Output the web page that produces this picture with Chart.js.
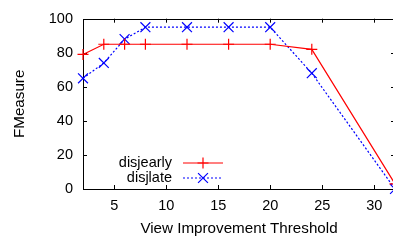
<!DOCTYPE html>
<html lang="en">
<head>
    <meta charset="UTF-8">
    <title>FMeasure vs View Improvement Threshold</title>
    <script src="https://cdn.jsdelivr.net/npm/chart.js"></script>
    <style>
        html, body { margin: 0; padding: 0; overflow: hidden; background: #fff; }
        canvas { display: block; }
    </style>
</head>
<body>
    <canvas id="fmChart" width="396" height="242"></canvas>

    <script>
        // values
        const thresholds = [2, 4, 6, 8, 12, 16, 20, 24, 32];
        const disjearly = [79, 85, 85, 85, 85, 85, 85, 82, 3];
        const disjlate = [65, 74, 88, 95, 95, 95, 95, 68, 0];
        const xTicks = [5, 10, 15, 20, 25, 30];
        const yTicks = [0, 20, 40, 60, 80, 100];

        const FONT = { family: '"Liberation Sans", Arial, Helvetica, sans-serif', size: 14.5 };
        const TITLE_FONT = { family: FONT.family, size: 15.2 };

        // gnuplot style box with inward ticks on all sides
        const framePlugin = {
            id: 'frame',
            beforeDatasetsDraw(chart) {
                const { ctx, chartArea: a, scales } = chart;
                ctx.save();
                ctx.strokeStyle = '#000';
                ctx.lineWidth = 1;
                ctx.beginPath();
                ctx.rect(Math.round(a.left) + 0.5, Math.round(a.top) + 0.5,
                    Math.round(a.right - a.left), Math.round(a.bottom - a.top));
                ctx.stroke();
                ctx.beginPath();
                xTicks.forEach(v => {
                    const x = Math.round(scales.x.getPixelForValue(v)) + 0.5;
                    ctx.moveTo(x, a.bottom); ctx.lineTo(x, a.bottom - 4);
                    ctx.moveTo(x, a.top); ctx.lineTo(x, a.top + 4);
                });
                yTicks.forEach(v => {
                    const y = Math.round(scales.y.getPixelForValue(v)) + 0.5;
                    ctx.moveTo(a.left, y); ctx.lineTo(a.left + 4, y);
                    ctx.moveTo(a.right, y); ctx.lineTo(a.right - 4, y);
                });
                ctx.stroke();
                ctx.restore();
            }
        };

        // legend: label right-aligned, then line sample with marker
        const keyPlugin = {
            id: 'key',
            afterDraw(chart) {
                const { ctx, chartArea: a } = chart;
                ctx.save();
                ctx.font = FONT.size + 'px ' + FONT.family;
                ctx.textAlign = 'right';
                ctx.textBaseline = 'middle';
                chart.data.datasets.forEach((ds, i) => {
                    const y = a.bottom - 26 + i * 15;
                    const tx = a.left + 89;
                    ctx.fillStyle = '#000';
                    ctx.fillText(ds.label, tx, y);
                    ctx.strokeStyle = ds.borderColor;
                    ctx.lineWidth = ds.borderWidth;
                    ctx.setLineDash(ds.borderDash || []);
                    ctx.beginPath();
                    ctx.moveTo(tx + 11, y);
                    ctx.lineTo(tx + 51, y);
                    ctx.stroke();
                    ctx.setLineDash([]);
                    Chart.helpers.drawPoint(ctx, {
                        pointStyle: ds.pointStyle,
                        radius: ds.pointRadius,
                        borderWidth: ds.pointBorderWidth
                    }, tx + 31, y);
                });
                ctx.restore();
            }
        };

        const ctx = document.getElementById('fmChart').getContext('2d');
        new Chart(ctx, {
            type: 'line',
            data: {
                datasets: [{
                    label: 'disjearly',
                    data: thresholds.map((x, i) => ({ x: x, y: disjearly[i] })),
                    borderColor: '#ff0000',
                    backgroundColor: '#ff0000',
                    borderWidth: 1.2,
                    pointStyle: 'cross',
                    pointRadius: 5.5,
                    pointBorderWidth: 1.2,
                    tension: 0,
                    clip: false
                }, {
                    label: 'disjlate',
                    data: thresholds.map((x, i) => ({ x: x, y: disjlate[i] })),
                    borderColor: '#0000ff',
                    backgroundColor: '#0000ff',
                    borderWidth: 1.2,
                    borderDash: [2, 2],
                    pointStyle: 'crossRot',
                    pointRadius: 7,
                    pointBorderWidth: 1.2,
                    tension: 0,
                    clip: false
                }]
            },
            options: {
                responsive: false,
                animation: false,
                devicePixelRatio: 1,
                layout: { autoPadding: false, padding: { top: 11, right: 1, left: 0, bottom: 0 } },
                plugins: { legend: { display: false }, tooltip: { enabled: false } },
                scales: {
                    x: {
                        type: 'linear',
                        min: 2,
                        max: 32,
                        afterBuildTicks: s => { s.ticks = xTicks.map(v => ({ value: v })); },
                        afterFit: s => { s.height = 53; },
                        grid: { display: false, drawTicks: false },
                        border: { display: false },
                        ticks: { color: '#000', font: FONT, padding: 8, maxRotation: 0 },
                        title: {
                            display: true,
                            text: 'View Improvement Threshold',
                            color: '#000',
                            font: TITLE_FONT,
                            padding: { top: 0, bottom: 4 }
                        }
                    },
                    y: {
                        type: 'linear',
                        min: 0,
                        max: 100,
                        afterBuildTicks: s => { s.ticks = yTicks.map(v => ({ value: v })); },
                        afterFit: s => { s.width = 83; },
                        grid: { display: false, drawTicks: false },
                        border: { display: false },
                        ticks: { color: '#000', font: FONT, padding: 10 },
                        title: {
                            display: true,
                            text: 'FMeasure',
                            color: '#000',
                            font: TITLE_FONT,
                            padding: { top: 11, bottom: 0 }
                        }
                    }
                }
            },
            plugins: [framePlugin, keyPlugin]
        });
    </script>
</body>
</html>
